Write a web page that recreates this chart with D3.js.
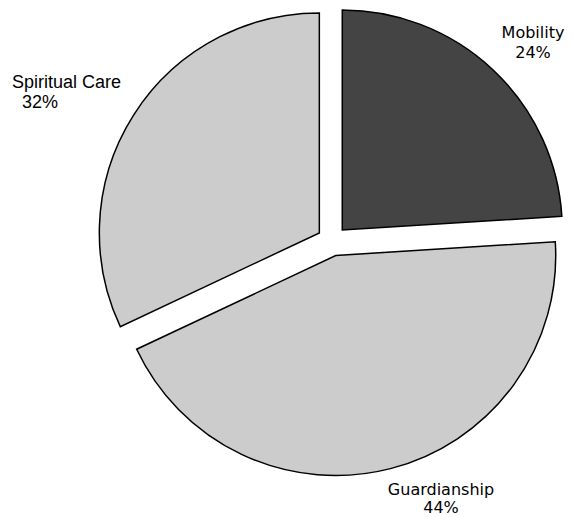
<!DOCTYPE html>
<html>
<head>
<meta charset="utf-8">
<script src="https://cdn.jsdelivr.net/npm/d3@7"></script>
<style>
  html, body { margin: 0; padding: 0; background: #ffffff; }
  svg { display: block; }
</style>
</head>
<body>
<svg id="chart" width="574" height="517"></svg>
<script>
const categories = ["Mobility", "Guardianship", "Spiritual Care"];
const values = [24, 44, 32];
const percentLabels = ["24%", "44%", "32%"];
const colors = ["#444444", "#cccccc", "#cccccc"];

const W = 574, H = 517;
const cx = 332, cy = 241, radius = 220, explode = 15;

const svg = d3.select("#chart");
const data = categories.map((c, i) => ({ name: c, value: values[i], pct: percentLabels[i], color: colors[i] }));

const pie = d3.pie().sort(null).value(d => d.value).startAngle(0).endAngle(2 * Math.PI);
const arc = d3.arc().innerRadius(0).outerRadius(radius);
const arcs = pie(data);

const g = svg.append("g").attr("transform", `translate(${cx},${cy})`);

g.selectAll("path.slice")
  .data(arcs)
  .enter().append("path")
  .attr("class", "slice")
  .attr("d", arc)
  .attr("transform", d => {
    const a = (d.startAngle + d.endAngle) / 2;
    return `translate(${explode * Math.sin(a)},${-explode * Math.cos(a)})`;
  })
  .attr("fill", d => d.data.color)
  .attr("stroke", "#000")
  .attr("stroke-width", 1.5)
  .attr("stroke-linejoin", "miter");

// Label layout (positions relative to the page)
const labelLayout = {
  "Mobility": { x: 533, y: 38, x2: 533, dy: 20, anchor: "middle", font: "DejaVu Sans", size: 16 },
  "Guardianship": { x: 441, y: 495, x2: 441, dy: 18, anchor: "middle", font: "DejaVu Sans", size: 16 },
  "Spiritual Care": { x: 12, y: 88, x2: 22, dy: 19.5, anchor: "start", font: "Liberation Sans", size: 18 }
};

const labels = svg.selectAll("text.lbl")
  .data(arcs)
  .enter().append("text")
  .attr("class", "lbl")
  .attr("text-anchor", d => labelLayout[d.data.name].anchor)
  .attr("font-family", d => labelLayout[d.data.name].font)
  .attr("font-size", d => labelLayout[d.data.name].size)
  .attr("fill", "#000");

labels.append("tspan")
  .attr("x", d => labelLayout[d.data.name].x)
  .attr("y", d => labelLayout[d.data.name].y)
  .text(d => d.data.name);

labels.append("tspan")
  .attr("x", d => labelLayout[d.data.name].x2)
  .attr("y", d => labelLayout[d.data.name].y + labelLayout[d.data.name].dy)
  .text(d => d.data.pct);
</script>
</body>
</html>
